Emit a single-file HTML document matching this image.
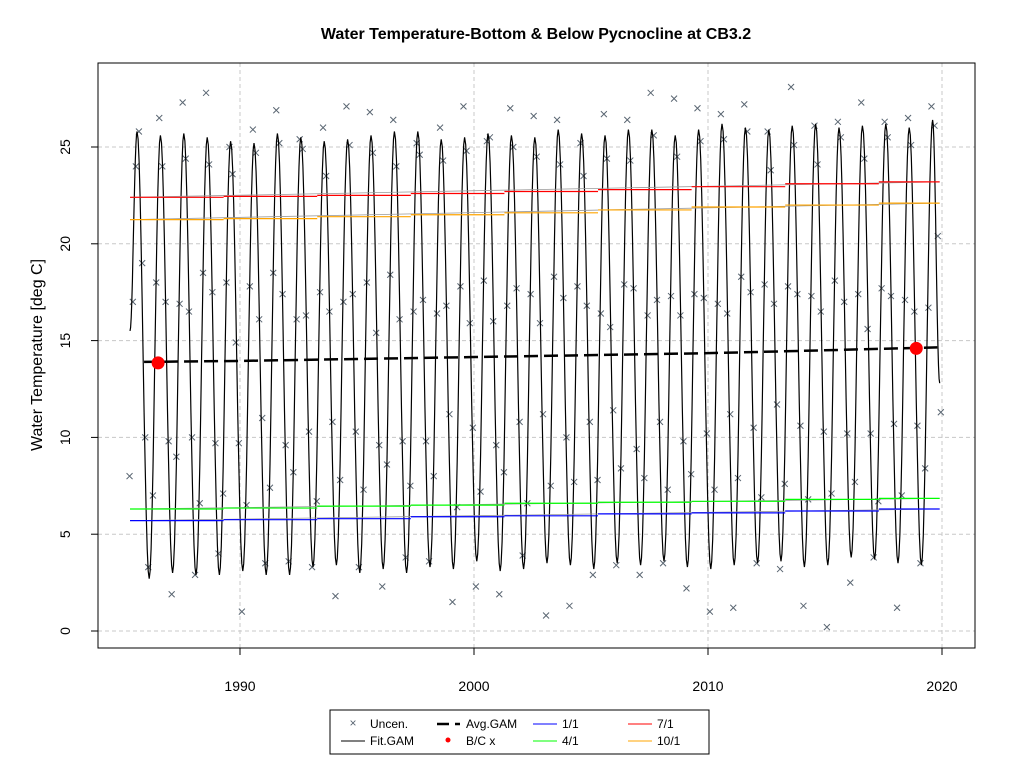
<!DOCTYPE html>
<html><head><meta charset="utf-8"><style>
body{margin:0;background:#fff;font-family:"Liberation Sans",Arial,sans-serif}
</style></head><body>
<svg id="chart" width="1024" height="768" xmlns="http://www.w3.org/2000/svg" font-family="Liberation Sans, Arial, sans-serif">
<rect width="1024" height="768" fill="#fff"/>
<text x="536" y="39" text-anchor="middle" font-size="16" font-weight="bold">Water Temperature-Bottom &amp; Below Pycnocline at CB3.2</text>
<g id="grid"></g>
<g id="marks"></g>
<rect x="98" y="63" width="877" height="585" fill="none" stroke="#000"/>
<g id="axes"></g>
<text x="0" y="0" transform="translate(42,355) rotate(-90)" text-anchor="middle" font-size="16">Water Temperature [deg C]</text>
<g>
<rect x="330" y="710" width="379" height="44" fill="#fff" stroke="#000"/>
<g><text x="353" y="727" text-anchor="middle" font-size="12" fill="#5a6672">×</text><text x="370" y="728" font-size="12">Uncen.</text></g>
<g><line x1="341" y1="741" x2="365" y2="741" stroke="#000"/><text x="370" y="745" font-size="12">Fit.GAM</text></g>
<g><line x1="437" y1="724" x2="449" y2="724" stroke="#000" stroke-width="2.5"/><line x1="455" y1="724" x2="460" y2="724" stroke="#000" stroke-width="2.5"/><text x="466" y="728" font-size="12">Avg.GAM</text></g>
<g><circle cx="448" cy="740" r="2.5" fill="red"/><text x="466" y="745" font-size="12">B/C x</text></g>
<g><line x1="533" y1="724" x2="557" y2="724" stroke="blue"/><text x="562" y="728" font-size="12">1/1</text></g>
<g><line x1="533" y1="741" x2="557" y2="741" stroke="#0f0"/><text x="562" y="745" font-size="12">4/1</text></g>
<g><line x1="628" y1="724" x2="652" y2="724" stroke="red"/><text x="657" y="728" font-size="12">7/1</text></g>
<g><line x1="628" y1="741" x2="652" y2="741" stroke="orange"/><text x="657" y="745" font-size="12">10/1</text></g>
</g>
</svg>
<script>
const xTicks=[1990,2000,2010,2020];
const yTicks=[0,5,10,15,20,25];
const peakYears=[1985,1986,1987,1988,1989,1990,1991,1992,1993,1994,1995,1996,1997,1998,1999,2000,2001,2002,2003,2004,2005,2006,2007,2008,2009,2010,2011,2012,2013,2014,2015,2016,2017,2018,2019];
const peaks=[25.8,25.6,25.7,25.5,25.3,25.2,25.7,25.5,25.3,25.4,25.6,25.8,25.8,25.4,25.5,25.7,25.6,25.5,25.9,25.7,25.6,25.9,25.9,25.6,25.9,26.2,26.0,25.9,26.1,26.2,26.0,26.1,26.2,26.0,26.4];
const troughs=[2.7,3.0,2.9,2.9,3.1,2.9,2.9,3.3,3.4,3.0,3.2,3.0,3.3,3.2,3.6,3.1,3.2,3.5,3.4,3.2,3.5,3.4,3.6,3.3,3.2,3.4,3.5,3.6,3.3,3.4,3.8,3.7,3.5,3.4,3.3];
const avgYears=[1985.9,1990,1995,2000,2005,2010,2015,2019.8];
const avgVals=[13.9,13.95,14.05,14.15,14.25,14.35,14.5,14.65];
const segStarts=[1985.3,1989.3,1993.3,1997.3,2001.3,2005.3,2009.3,2013.3,2017.3];
const segEnds=[1989.3,1993.3,1997.3,2001.3,2005.3,2009.3,2013.3,2017.3,2019.9];
const jan=[5.7,5.75,5.8,5.9,5.95,6.05,6.1,6.2,6.3];
const apr=[6.3,6.35,6.45,6.5,6.6,6.65,6.7,6.8,6.85];
const jul=[22.4,22.45,22.5,22.6,22.7,22.8,22.95,23.1,23.2];
const oct=[21.25,21.3,21.4,21.5,21.6,21.75,21.9,22.0,22.1];
const bcX=[1986.5,2018.9];
const bcY=[13.85,14.6];
const obsMonths=[0.08,0.28,0.42,0.55,0.68,0.82,0.95];
const obsVals=[
[null,8,17,24,25.8,19,10],[3.3,7,18,26.5,24,17,9.8],[1.9,9,16.9,27.3,24.4,16.5,10],[2.9,6.6,18.5,27.8,24.1,17.5,9.7],
[4,7.1,18,25,23.6,14.9,9.7],[1,6.5,17.8,25.9,24.7,16.1,11],[3.5,7.4,18.5,26.9,25.2,17.4,9.6],[3.6,8.2,16.1,25.4,24.9,16.3,10.3],
[3.3,6.7,17.5,26,23.5,16.5,10.8],[1.8,7.8,17,27.1,25.1,17.4,10.3],[3.3,7.3,18,26.8,24.7,15.4,9.6],[2.3,8.6,18.4,26.4,24,16.1,9.8],
[3.8,7.5,16.5,25.2,24.6,17.1,9.8],[3.6,8,16.4,26,24.3,16.8,11.2],[1.5,6.4,17.8,27.1,24.8,15.9,10.5],[2.3,7.2,18.1,25.3,25.5,16,9.6],
[1.9,8.2,16.8,27,25,17.7,10.8],[3.9,6.6,17.4,26.6,24.5,15.9,11.2],[0.8,7.5,18.3,26.4,24.1,17.2,10],[1.3,7.7,17.8,25.2,23.5,16.8,10.8],
[2.9,7.8,16.4,26.7,24.4,15.7,11.4],[3.4,8.4,17.9,26.4,24.3,17.7,9.4],[2.9,7.9,16.3,27.8,25.6,17.1,10.8],[3.5,7.3,17.3,27.5,24.5,16.3,9.8],
[2.2,8.1,17.4,27,25.3,17.2,10.2],[1,7.3,16.9,26.7,25.4,16.4,11.2],[1.2,7.9,18.3,27.2,25.8,17.5,10.5],[3.5,6.9,17.9,25.8,23.8,16.9,11.7],
[3.2,7.6,17.8,28.1,25.1,17.4,10.6],[1.3,6.8,17.3,26.1,24.1,16.5,10.3],[0.2,7.1,18.1,26.3,25.5,17,10.2],[2.5,7.7,17.4,27.3,24.4,15.6,10.2],
[3.8,6.7,17.7,26.3,25.5,17.3,10.7],[1.2,7,17.1,26.5,25.1,16.5,10.6],[3.5,8.4,16.7,27.1,26.1,20.4,11.3]];
const NS="http://www.w3.org/2000/svg";
const X=y=>240+(y-1990)*23.4, Y=v=>631-v*19.36;
function mk(p,t,a){const e=document.createElementNS(NS,t);for(const k in a)e.setAttribute(k,a[k]);p.appendChild(e);return e;}
const grid=document.getElementById('grid'),marks=document.getElementById('marks'),axes=document.getElementById('axes');
xTicks.forEach(t=>{const l=mk(grid,'line',{x1:X(t),x2:X(t),y1:63,y2:648,stroke:'#c8c8c8','stroke-dasharray':'4,3'});


mk(axes,'line',{x1:X(t),x2:X(t),y1:648,y2:655,stroke:'#000'});
const tx=mk(axes,'text',{x:X(t),y:691,'text-anchor':'middle','font-size':14});tx.textContent=t;

});
mk(axes,'line',{x1:X(1990),x2:X(2020),y1:648,y2:648,stroke:'#000'});
yTicks.forEach(t=>{const l=mk(grid,'line',{x1:98,x2:975,y1:Y(t),y2:Y(t),stroke:'#c8c8c8','stroke-dasharray':'4,3'});


mk(axes,'line',{x1:91,x2:98,y1:Y(t),y2:Y(t),stroke:'#000'});
const tx=mk(axes,'text',{x:0,y:0,transform:`translate(70,${Y(t)}) rotate(-90)`,'text-anchor':'middle','font-size':14});tx.textContent=t;

});
// observations
obsVals.forEach((row,i)=>row.forEach((v,j)=>{if(v==null)return;const cx=X(peakYears[i]+obsMonths[j]),cy=Y(v);
const g=mk(marks,'path',{d:`M${cx-3},${cy-3}L${cx+3},${cy+3}M${cx-3},${cy+3}L${cx+3},${cy-3}`,stroke:'#5a6672','stroke-width':1});

}));
// fit GAM: knots at troughs (yr+0.12) and peaks (yr+0.6)
const knots=[[1985.3,15.5]];
peakYears.forEach((yr,i)=>{knots.push([yr+0.6,peaks[i]]);knots.push([yr+1.12,troughs[i]]);});
knots[knots.length-1]=[2019.9,12.8];
let d='';knots.forEach((k,i)=>{if(i==0){d+=`M${X(k[0])},${Y(k[1])}`;return;}const p=knots[i-1];
for(let s=1;s<=12;s++){const f=s/12,w=(1-Math.cos(Math.PI*f))/2;d+=`L${X(p[0]+(k[0]-p[0])*f).toFixed(1)},${Y(p[1]+(k[1]-p[1])*w).toFixed(1)}`;}});
const fit=mk(marks,'path',{d,fill:'none',stroke:'#000','stroke-width':1.2});


// seasonal trend lines
const gray=mk(marks,'g',{});
[[jan,'blue'],[apr,'#0f0'],[jul,'red'],[oct,'orange']].forEach(([arr,c])=>{
mk(gray,'line',{x1:X(1985.3),x2:X(2019.9),y1:Y(arr[0]),y2:Y(arr[arr.length-1]),stroke:'#999','stroke-width':0.8});
arr.forEach((v,i)=>{const l=mk(marks,'line',{x1:X(segStarts[i]),x2:X(segEnds[i]),y1:Y(v),y2:Y(v),stroke:c,'stroke-width':1.2});

});});
// avg GAM
let ad='';avgYears.forEach((y,i)=>ad+=(i?'L':'M')+X(y)+','+Y(avgVals[i]));
const avg=mk(marks,'path',{d:ad,fill:'none',stroke:'#000','stroke-width':2.5,'stroke-dasharray':'14,6'});


bcX.forEach((x,i)=>{const c=mk(marks,'circle',{cx:X(x),cy:Y(bcY[i]),r:6.5,fill:'red'});

});
</script>
</body></html>
